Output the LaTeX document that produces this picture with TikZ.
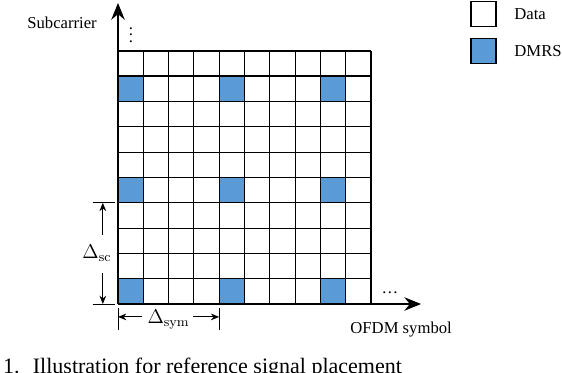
\documentclass[tikz,border=0pt]{standalone}
\usepackage[no-math]{fontspec}
\setmainfont{Liberation Serif}
\usepackage{xcolor}
\usepackage{tikz}
\usetikzlibrary{arrows.meta,positioning}
\definecolor{dmrsblue}{HTML}{5B9BD5}

\begin{document}
\begin{tikzpicture}[x=15.18pt,y=15.18pt,>=Stealth,
    keybox/.style={draw=black,line width=0.9pt,minimum size=15pt,inner sep=0pt},
    dimarrow/.style={-{Stealth[length=5pt,width=4pt]},line width=0.6pt},
    axisarrow/.style={-{Stealth[length=10pt,width=8pt]},line width=1.5pt}]
  \useasboundingbox (-4.664,-2.688) rectangle (17.549,12.016);
  % DMRS every 4th symbol / subcarrier
  \foreach \i in {0,4,8}
    \foreach \j in {0,4,8}
      \fill[dmrsblue] (\i,\j) rectangle ++(1,1);
  \foreach \k in {1,...,10} {
    \draw[line width=0.7pt] (\k,0) -- (\k,10);
    \draw[line width=0.7pt] (0,\k) -- (10,\k);
  }
  \draw[line width=1.3pt] (0,9) -- (10,9);
  % axes
  \coordinate (origin) at (0,0);
  \coordinate (ytip) at (0,11.9);
  \coordinate (xtip) at (11.98,0);
  \draw[axisarrow] (origin) -- (ytip);
  \draw[axisarrow] (origin) -- (xtip);
  \node at (0.51,10.83) (vdots) {$\vdots$};
  \node[anchor=base] at (10.75,0.43) (hdots) {\ldots};
  \node[anchor=base] at (-2.21,10.87) (ylabel) {Subcarrier};
  \node[anchor=base] at (11.19,-1.15) (xlabel) {OFDM symbol};
  % legend
  \node[keybox,fill=white] at (14.45,11.47) (databox) {};
  \node[keybox,fill=dmrsblue] at (14.45,10.0) (dmrsbox) {};
  \node[right=7pt of databox] (datalabel) {Data};
  \node[right=7pt of dmrsbox] (dmrslabel) {DMRS};
  % spacing in frequency
  \draw[line width=0.6pt] (-0.99,4) -- (-0.1,4);
  \draw[line width=0.6pt] (-0.99,0) -- (-0.1,0);
  \node at (-0.83,2.02) (dsc) {\large$\Delta_{\mathrm{sc}}$};
  \coordinate (scupper) at (-0.6,2.73);
  \coordinate (sclower) at (-0.6,1.23);
  \draw[dimarrow] (scupper) -- (-0.6,4);
  \draw[dimarrow] (sclower) -- (-0.6,0);
  % spacing in time
  \draw[line width=0.6pt] (0,-0.15) -- (0,-1.02);
  \draw[line width=0.6pt] (4,-0.15) -- (4,-1.02);
  \node at (2,-0.6) (dsym) {\large$\Delta_{\mathrm{sym}}$};
  \coordinate (symleft) at (0.95,-0.51);
  \coordinate (symright) at (2.97,-0.51);
  \draw[dimarrow] (symleft) -- (0,-0.51);
  \draw[dimarrow] (symright) -- (4,-0.51);
  % caption, cut by the page edge
  \node[anchor=base west,inner sep=0pt,font=\fontsize{13.2}{15}\selectfont]
    at (-4.55,-2.73) (caption) {1.\hspace{0.6em}Illustration for reference signal placement};
\end{tikzpicture}
\end{document}
